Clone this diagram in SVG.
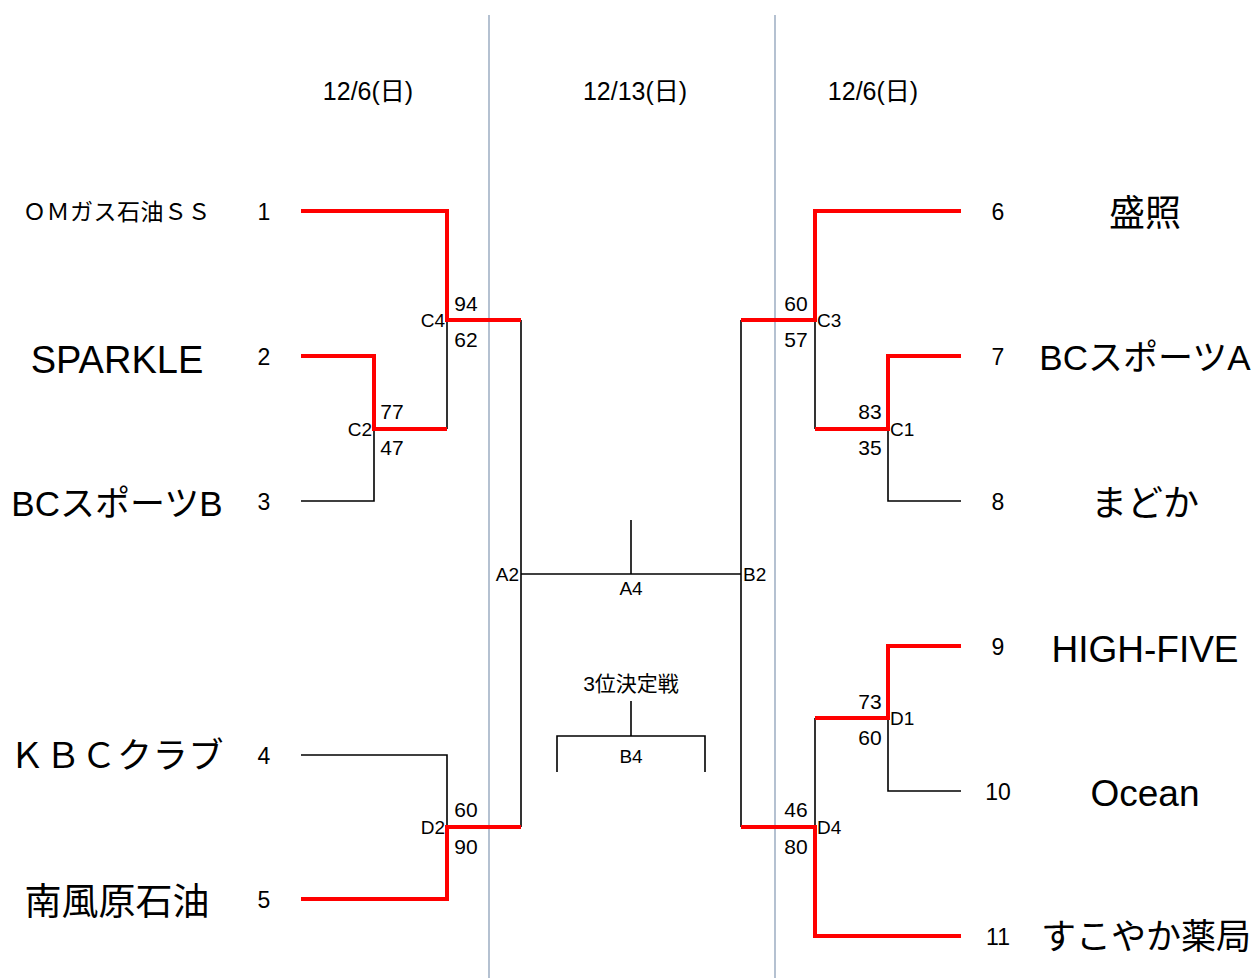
<svg xmlns="http://www.w3.org/2000/svg" width="1253" height="978" viewBox="0 0 1253 978">
<style>
text{font-family:"Liberation Sans","Noto Sans CJK JP",sans-serif;fill:#000}
.name{text-anchor:middle}
.num{font-size:23px;text-anchor:middle}
.sc{font-size:21px;text-anchor:middle}
.lbl{font-size:19px}
.r{text-anchor:end}
.date{font-size:25px;text-anchor:middle}
.win{stroke:#ff0000;stroke-width:4;fill:none;stroke-linejoin:miter}
.lose{stroke:#000;stroke-width:1.6;fill:none}
.sep{stroke:#8da0b9;stroke-width:1.3}
</style>
<rect width="1253" height="978" fill="#fff"/>
<g id="separators">
<line class="sep" x1="489" y1="15" x2="489" y2="978"/>
<line class="sep" x1="775" y1="15" x2="775" y2="978"/>
</g>
<g id="dates">
<text class="date" x="368" y="100">12/6(日)</text>
<text class="date" x="635" y="100">12/13(日)</text>
<text class="date" x="873" y="100">12/6(日)</text>
</g>
<g id="connectors">
<path class="lose" d="M447,320 V429"/>
<path class="lose" d="M301,501 H374 V429"/>
<path class="lose" d="M521,320 V827"/>
<path class="lose" d="M301,755 H447 V827"/>
<path class="lose" d="M815,320 V429"/>
<path class="lose" d="M961,501 H888 V429"/>
<path class="lose" d="M741,320 V827"/>
<path class="lose" d="M961,791 H888 V718"/>
<path class="lose" d="M815,718 V827"/>
<path class="lose" d="M521,574 H741"/>
<path class="lose" d="M631,520 V574"/>
<path class="lose" d="M631,701 V736"/>
<path class="lose" d="M557,772 V736 H705 V772"/>
<path class="win" d="M301,211 H447 V320 H521"/>
<path class="win" d="M301,356 H374 V429 H447"/>
<path class="win" d="M301,899 H447 V827 H521"/>
<path class="win" d="M961,211 H815 V320 H741"/>
<path class="win" d="M961,356 H888 V429 H815"/>
<path class="win" d="M961,646 H888 V718 H815"/>
<path class="win" d="M961,936 H815 V827 H741"/>
</g>
<g id="team1"><text class="name" x="117" y="220" font-size="23" letter-spacing="0.5">ＯＭガス石油ＳＳ</text><text class="num" x="264" y="220">1</text></g>
<g id="team2"><text class="name" x="117" y="373" font-size="38">SPARKLE</text><text class="num" x="264" y="365">2</text></g>
<g id="team3"><text class="name" x="117" y="516" font-size="35">BCスポーツB</text><text class="num" x="264" y="510">3</text></g>
<g id="team4"><text class="name" x="117" y="768" font-size="35" letter-spacing="0.8">ＫＢＣクラブ</text><text class="num" x="264" y="764">4</text></g>
<g id="team5"><text class="name" x="117" y="915" font-size="37">南風原石油</text><text class="num" x="264" y="908">5</text></g>
<g id="team6"><text class="name" x="1145" y="226" font-size="36">盛照</text><text class="num" x="998" y="220">6</text></g>
<g id="team7"><text class="name" x="1145" y="370" font-size="35">BCスポーツA</text><text class="num" x="998" y="365">7</text></g>
<g id="team8"><text class="name" x="1145" y="516" font-size="36">まどか</text><text class="num" x="998" y="510">8</text></g>
<g id="team9"><text class="name" x="1145" y="662" font-size="37">HIGH-FIVE</text><text class="num" x="998" y="655">9</text></g>
<g id="team10"><text class="name" x="1145" y="806" font-size="37">Ocean</text><text class="num" x="998" y="800">10</text></g>
<g id="team11"><text class="name" x="1146" y="949" font-size="35">すこやか薬局</text><text class="num" x="998" y="945">11</text></g>
<g id="C4"><text class="lbl r" x="445" y="327">C4</text><text class="sc" x="466" y="311">94</text><text class="sc" x="466" y="347">62</text></g>
<g id="C2"><text class="lbl r" x="372" y="436">C2</text><text class="sc" x="392" y="419">77</text><text class="sc" x="392" y="455">47</text></g>
<g id="D2"><text class="lbl r" x="445" y="834">D2</text><text class="sc" x="466" y="817">60</text><text class="sc" x="466" y="854">90</text></g>
<g id="C3"><text class="lbl" x="817" y="327">C3</text><text class="sc" x="796" y="311">60</text><text class="sc" x="796" y="347">57</text></g>
<g id="C1"><text class="lbl" x="890" y="436">C1</text><text class="sc" x="870" y="419">83</text><text class="sc" x="870" y="455">35</text></g>
<g id="D1"><text class="lbl" x="890" y="725">D1</text><text class="sc" x="870" y="709">73</text><text class="sc" x="870" y="745">60</text></g>
<g id="D4"><text class="lbl" x="817" y="834">D4</text><text class="sc" x="796" y="817">46</text><text class="sc" x="796" y="854">80</text></g>
<g id="A2"><text class="lbl r" x="519" y="581">A2</text></g>
<g id="B2"><text class="lbl" x="743" y="581">B2</text></g>
<g id="A4"><text class="lbl" x="631" y="595" text-anchor="middle">A4</text></g>
<g id="B4"><text class="lbl" x="631" y="763" text-anchor="middle">B4</text></g>
<g id="third"><text x="631" y="691" font-size="21" text-anchor="middle">3位決定戦</text></g>
</svg>
